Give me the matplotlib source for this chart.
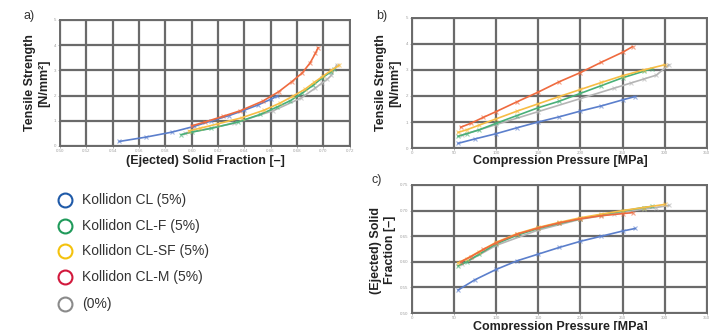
import numpy as np
import matplotlib.pyplot as plt

plt.rcParams['font.family'] = ['Liberation Sans', 'DejaVu Sans']

# series: compression pressure [MPa], tensile strength [N/mm2], ejected solid fraction [-]
names = ["Kollidon CL (5%)", "Kollidon CL-F (5%)", "Kollidon CL-SF (5%)", "Kollidon CL-M (5%)", "(0%)"]
legend_colors = ["#1f5aa8", "#1f9a5a", "#f4c20d", "#d2183c", "#8a8a8a"]
data_colors = ["#5b7fcc", "#48b078", "#f7bd45", "#ef6a3e", "#b5b5b5"]

p_cl = [55, 75, 100, 125, 150, 175, 200, 225, 250, 265]
ts_cl = [0.18, 0.35, 0.55, 0.78, 1.0, 1.2, 1.42, 1.62, 1.85, 1.98]
sf_cl = [0.545, 0.565, 0.585, 0.602, 0.615, 0.628, 0.640, 0.650, 0.660, 0.665]

p_clf = [55, 65, 80, 100, 125, 150, 175, 200, 225, 250, 275, 285]
ts_clf = [0.45, 0.55, 0.7, 0.95, 1.25, 1.55, 1.8, 2.1, 2.4, 2.7, 2.95, 3.05]
sf_clf = [0.592, 0.600, 0.615, 0.635, 0.652, 0.665, 0.675, 0.684, 0.692, 0.699, 0.706, 0.708]

p_clsf = [55, 65, 80, 100, 125, 150, 175, 200, 225, 250, 275, 300]
ts_clsf = [0.6, 0.7, 0.88, 1.12, 1.42, 1.7, 1.98, 2.25, 2.52, 2.78, 3.0, 3.2]
sf_clsf = [0.598, 0.606, 0.62, 0.638, 0.655, 0.667, 0.677, 0.686, 0.693, 0.700, 0.706, 0.712]

p_clm = [58, 70, 85, 100, 125, 150, 175, 200, 225, 250, 262]
ts_clm = [0.8, 0.95, 1.18, 1.4, 1.78, 2.15, 2.55, 2.9, 3.3, 3.68, 3.9]
sf_clm = [0.600, 0.610, 0.624, 0.637, 0.654, 0.666, 0.676, 0.684, 0.690, 0.694, 0.696]

p_0 = [60, 100, 150, 200, 240, 260, 275, 290, 305]
ts_0 = [0.5, 0.9, 1.4, 1.9, 2.3, 2.5, 2.65, 2.8, 3.2]
sf_0 = [0.595, 0.632, 0.662, 0.683, 0.694, 0.699, 0.703, 0.706, 0.71]

series = [(p_cl, ts_cl, sf_cl), (p_clf, ts_clf, sf_clf), (p_clsf, ts_clsf, sf_clsf),
          (p_clm, ts_clm, sf_clm), (p_0, ts_0, sf_0)]
draw_order = [4, 0, 1, 2, 3]

sf_ticks = [0.50, 0.52, 0.54, 0.56, 0.58, 0.60, 0.62, 0.64, 0.66, 0.68, 0.70, 0.72]
ts_ticks = [0, 1, 2, 3, 4, 5]
p_ticks = [0, 50, 100, 150, 200, 250, 300, 350]
sf_c_ticks = [0.50, 0.55, 0.60, 0.65, 0.70, 0.75]

fig = plt.figure(figsize=(7.1, 3.3), dpi=100)
ax_a = fig.add_axes([0.0845, 0.5576, 0.408, 0.382])
ax_b = fig.add_axes([0.580, 0.5515, 0.4155, 0.394])
ax_c = fig.add_axes([0.580, 0.0515, 0.4155, 0.388])

def style(ax, xt, yt, fmtx, fmty):
    ax.set_xlim(xt[0], xt[-1])
    ax.set_ylim(yt[0], yt[-1])
    ax.set_xticks(xt)
    ax.set_yticks(yt)
    ax.set_xticklabels([fmtx.format(v) for v in xt])
    ax.set_yticklabels([fmty.format(v) for v in yt])
    ax.tick_params(labelsize=3.2, labelcolor="#a0a0a0", length=1.5, width=0.6,
                   color="#a0a0a0", pad=1)
    ax.grid(True, color="#6a6a6a", lw=1.6)
    ax.set_axisbelow(True)
    for s in ax.spines.values():
        s.set_color("#6a6a6a")
        s.set_linewidth(1.4)

for i in draw_order:
    p, ts, sf = series[i]
    for ax, xs, ys in ((ax_a, sf, ts), (ax_b, p, ts), (ax_c, p, sf)):
        ax.plot(xs, ys, color=data_colors[i], lw=1.2, zorder=3)
        ax.plot(xs, ys, ls="none", marker="x", ms=3, mew=0.8,
                color=data_colors[i], alpha=0.6, zorder=3)

style(ax_a, sf_ticks, ts_ticks, "{:.2f}", "{:d}")
style(ax_b, p_ticks, ts_ticks, "{:d}", "{:d}")
style(ax_c, p_ticks, sf_c_ticks, "{:d}", "{:.2f}")

lab = dict(fontsize=9, fontweight="bold", color="#222222")
fig.text(37 / 710, 1 - 83 / 330, "Tensile Strength\n[N/mm²]", rotation=90,
         ha="center", va="center", multialignment="center", **lab)
fig.text(205 / 710, 1 - 161 / 330, "(Ejected) Solid Fraction [–]", ha="center", va="center", **lab)
fig.text(388 / 710, 1 - 83 / 330, "Tensile Strength\n[N/mm²]", rotation=90,
         ha="center", va="center", multialignment="center", **lab)
fig.text(560 / 710, 1 - 161 / 330, "Compression Pressure [MPa]", ha="center", va="center", **lab)
fig.text(383 / 710, 1 - 250 / 330, "(Ejected) Solid\nFraction [–]", rotation=90,
         ha="center", va="center", multialignment="center", **lab)
fig.text(560 / 710, 1 - 327 / 330, "Compression Pressure [MPa]", ha="center", va="center", **lab)

pan = dict(fontsize=9, color="#333333", ha="left", va="center")
fig.text(24 / 710, 1 - 16 / 330, "a)", **pan)
fig.text(376 / 710, 1 - 16 / 330, "b)", **pan)
fig.text(371 / 710, 1 - 180 / 330, "c)", **pan)

# legend at lower left
leg_y = [200, 226, 251, 277, 304]
for i, name in enumerate(names):
    y = 1 - leg_y[i] / 330
    fig.lines.append(plt.Line2D([65 / 710], [y], marker="o", ms=10, mfc="none",
                                mec=legend_colors[i], mew=1.5, ls="none",
                                transform=fig.transFigure, figure=fig))
    fig.text(82 / 710, y, name, fontsize=10, color="#333333", ha="left", va="center")

fig.savefig("out.png", dpi=100)
